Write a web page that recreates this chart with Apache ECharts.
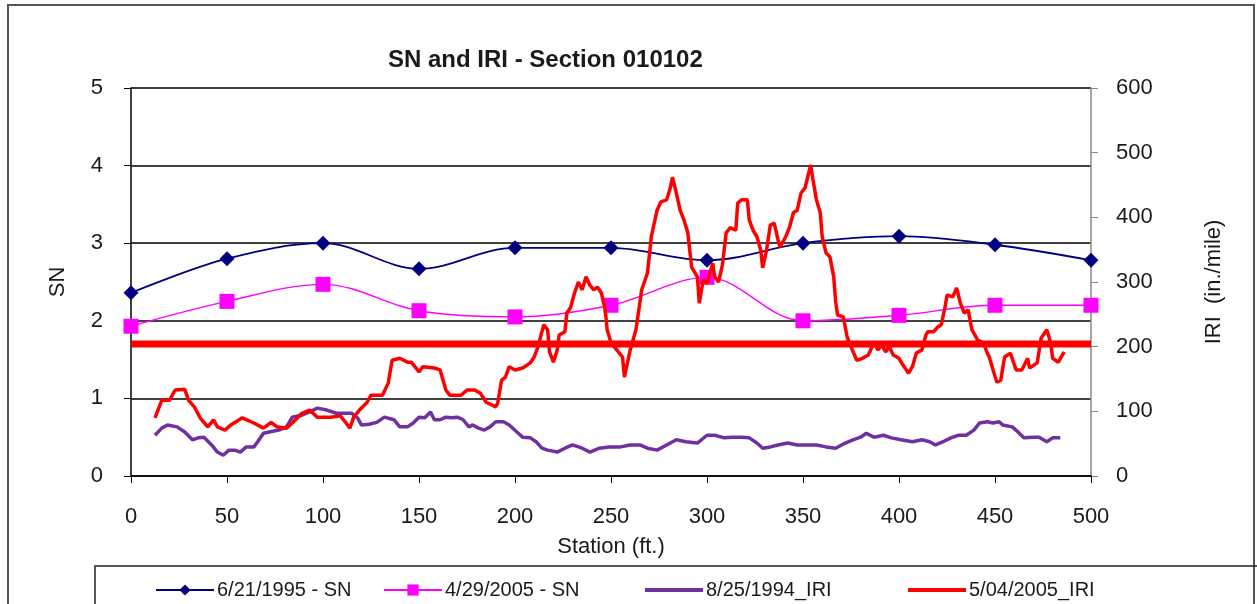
<!DOCTYPE html>
<html>
<head>
<meta charset="utf-8">
<script src="https://cdn.jsdelivr.net/npm/echarts@6/dist/echarts.min.js"></script>
<style>
  html, body { margin: 0; padding: 0; background: #fff; }
  #chart { width: 1257px; height: 604px; }
</style>
</head>
<body>
<div id="chart"></div>
<script>
// SN readings every 50 ft
const snStations = [0, 50, 100, 150, 200, 250, 300, 350, 400, 450, 500];
const sn1995 = [2.36, 2.80, 3.00, 2.67, 2.94, 2.94, 2.78, 3.00, 3.09, 2.98, 2.78];
const sn2005 = [1.93, 2.25, 2.47, 2.13, 2.05, 2.20, 2.56, 2.00, 2.07, 2.20, 2.20];

// IRI profiles (station ft, in./mile)
const iri1994Stations = [12.5, 16, 19, 24, 28, 32, 35, 38, 42, 45, 48, 51, 54, 57, 60, 64, 66, 69, 72, 77, 81, 84, 89, 93, 97, 102, 107, 112, 115, 118, 120, 124, 128, 132, 137, 140, 144, 147, 150, 153, 156, 158, 161, 164, 167, 170, 173, 176, 178, 181, 184, 187, 190, 194, 197, 201, 204, 208, 211, 214, 217, 222, 226, 230, 235, 239, 244, 249, 255, 260, 265, 269, 274, 279, 284, 289, 295, 300, 304, 309, 313, 318, 322, 326, 329, 333, 337, 342, 347, 352, 357, 362, 367, 372, 376, 380, 383, 387, 392, 396, 401, 407, 412, 416, 419, 423, 427, 431, 435, 439, 442, 446, 449, 452, 454, 459, 462, 465, 470, 473, 477, 480, 484];
const iri1994 = [63, 74, 79, 76, 68, 56, 59, 60, 48, 37, 32, 40, 40, 37, 45, 45, 53, 66, 68, 71, 76, 91, 94, 99, 105, 102, 97, 97, 97, 90, 79, 80, 83, 91, 87, 76, 76, 82, 91, 90, 99, 87, 87, 91, 90, 91, 87, 76, 79, 74, 71, 76, 84, 84, 79, 68, 60, 59, 53, 43, 40, 37, 43, 48, 43, 37, 43, 45, 45, 48, 48, 43, 40, 48, 56, 53, 51, 63, 63, 59, 60, 60, 59, 51, 43, 45, 48, 51, 48, 48, 48, 45, 43, 51, 56, 60, 66, 60, 63, 59, 56, 53, 56, 53, 48, 53, 59, 63, 63, 71, 82, 84, 82, 84, 79, 76, 68, 59, 60, 60, 53, 59, 59];

const iri2005Stations = [12.5, 16, 20, 23, 28, 30, 33, 36, 40, 43, 45, 49, 52, 58, 64, 69, 73, 76, 81, 84, 89, 93, 97, 104, 109, 112, 114, 116, 119, 123, 125, 131, 134, 136, 140, 144, 146, 150, 152, 158, 161, 164, 166, 172, 175, 179, 182, 185, 190, 191, 193, 195, 197, 200, 204, 208, 210, 212, 215, 217, 218, 220, 222, 223, 226, 227, 229, 231, 233, 235, 237, 239, 241, 243, 245, 247, 248, 250, 253, 256, 257, 260, 263, 266, 269, 271, 274, 276, 279, 281, 282, 284, 286, 288, 290, 292, 295, 296, 298, 300, 303, 304, 306, 308, 310, 312, 315, 316, 318, 321, 322, 324, 326, 328, 329, 331, 333, 335, 337, 338, 341, 343, 345, 347, 349, 351, 353, 354, 355, 357, 359, 360, 362, 364, 366, 367, 368, 371, 373, 375, 378, 381, 384, 387, 389, 391, 393, 395, 397, 400, 402, 405, 407, 409, 412, 414, 415, 418, 420, 422, 424, 425, 428, 430, 432, 434, 436, 438, 441, 444, 446, 447, 449, 451, 453, 455, 458, 461, 464, 467, 468, 472, 474, 477, 479, 480, 483, 486];
const iri2005 = [90, 117, 117, 133, 134, 117, 107, 90, 76, 87, 76, 71, 79, 90, 82, 74, 83, 76, 74, 82, 97, 102, 91, 91, 93, 82, 74, 91, 102, 114, 125, 125, 144, 179, 182, 176, 176, 161, 169, 167, 164, 133, 125, 125, 133, 133, 128, 114, 107, 113, 148, 153, 169, 164, 167, 175, 184, 200, 234, 226, 192, 176, 195, 218, 223, 252, 261, 283, 300, 288, 308, 295, 288, 292, 283, 257, 226, 206, 195, 184, 153, 195, 226, 288, 314, 370, 411, 424, 427, 447, 462, 438, 411, 396, 376, 323, 308, 267, 303, 298, 329, 308, 300, 326, 376, 384, 380, 422, 427, 427, 396, 380, 370, 349, 322, 349, 388, 391, 365, 354, 370, 385, 407, 411, 438, 445, 469, 481, 462, 427, 407, 370, 345, 339, 308, 270, 249, 246, 215, 200, 179, 182, 187, 206, 195, 203, 192, 200, 187, 182, 172, 159, 169, 190, 195, 218, 223, 223, 230, 234, 261, 280, 277, 291, 267, 252, 257, 226, 210, 206, 190, 184, 164, 145, 148, 184, 190, 164, 164, 182, 167, 175, 213, 226, 206, 182, 176, 192];

// thick red reference line (on SN axis)
const refStations = [0, 500];
const refLevel = [1.7, 1.7];

const names = ['6/21/1995 - SN', '4/29/2005 - SN', '8/25/1994_IRI', '5/04/2005_IRI'];

const pair = (xs, ys) => xs.map((x, i) => [x, ys[i]]);

const FONT = '"Liberation Sans", Arial, sans-serif';
const TXT = '#1a1a1a';

const chart = echarts.init(document.getElementById('chart'));

// one legend per entry so each sits in its own column like the original
function legendAt(name, left, plainLine) {
    return {
        data: [plainLine ? { name: name, icon: 'rect' } : name],
        left: left,
        top: 575,
        itemWidth: 58,
        itemHeight: plainLine ? 4 : 14,
        itemGap: 0,
        textStyle: { fontFamily: FONT, fontSize: 20, color: TXT, padding: [0, 0, 0, -2] }
    };
}

const option = {
    animation: false,
    backgroundColor: '#fff',
    title: {
        text: 'SN and IRI - Section 010102',
        left: 383,
        top: 43,
        textStyle: { fontFamily: FONT, fontSize: 24, fontWeight: 'bold', color: TXT }
    },
    legend: [
        legendAt(names[0], 150, false),
        legendAt(names[1], 378, false),
        legendAt(names[2], 640, true),
        legendAt(names[3], 903, true)
    ],
    graphic: [
        {
            type: 'rect', z: -1, silent: true,
            shape: { x: 8, y: 5, width: 1246, height: 640 },
            style: { fill: null, stroke: '#555', lineWidth: 2 }
        },
        {
            type: 'rect', z: -1, silent: true,
            shape: { x: 95, y: 566, width: 1170, height: 50 },
            style: { fill: null, stroke: '#222', lineWidth: 1.5 }
        }
    ],
    grid: { left: 131, right: 166, top: 88, bottom: 128 },
    xAxis: {
        type: 'value',
        min: 0, max: 500, interval: 50,
        name: 'Station (ft.)',
        nameLocation: 'middle',
        nameGap: 60,
        nameTextStyle: { fontFamily: FONT, fontSize: 22, color: TXT },
        axisLine: { lineStyle: { color: '#000', width: 1.5 } },
        axisTick: { length: 7, lineStyle: { color: '#000' } },
        axisLabel: { fontFamily: FONT, fontSize: 22, color: TXT, margin: 30 },
        splitLine: { show: false }
    },
    yAxis: [
        {
            type: 'value',
            min: 0, max: 5, interval: 1,
            name: 'SN',
            nameLocation: 'middle',
            nameRotate: 90,
            nameGap: 62,
            nameTextStyle: { fontFamily: FONT, fontSize: 22, color: TXT },
            axisLine: { show: true, lineStyle: { color: '#000', width: 1.5 } },
            axisTick: { show: true, length: 7, lineStyle: { color: '#000' } },
            axisLabel: { fontFamily: FONT, fontSize: 22, color: TXT, margin: 28 },
            splitLine: { show: true, lineStyle: { color: '#000', width: 1.5 } }
        },
        {
            type: 'value',
            min: 0, max: 600, interval: 100,
            position: 'right',
            name: 'IRI  (in./mile)',
            nameLocation: 'middle',
            nameRotate: 90,
            nameGap: 112,
            nameTextStyle: { fontFamily: FONT, fontSize: 22, color: TXT },
            axisLine: { show: true, lineStyle: { color: '#888', width: 1.5 } },
            axisTick: { show: true, length: 7, lineStyle: { color: '#888' } },
            axisLabel: { fontFamily: FONT, fontSize: 22, color: TXT, margin: 25 },
            splitLine: { show: false }
        }
    ],
    series: [
        {
            name: 'ref',
            type: 'line',
            yAxisIndex: 0,
            data: pair(refStations, refLevel),
            symbol: 'none',
            lineStyle: { color: '#ff0000', width: 7 },
            z: 1
        },
        {
            name: names[0],
            type: 'line',
            yAxisIndex: 0,
            data: pair(snStations, sn1995),
            smooth: 0.35,
            symbol: 'diamond',
            symbolSize: 15,
            itemStyle: { color: '#000080' },
            lineStyle: { color: '#000080', width: 1.8 },
            z: 2
        },
        {
            name: names[1],
            type: 'line',
            yAxisIndex: 0,
            data: pair(snStations, sn2005),
            smooth: 0.35,
            symbol: 'rect',
            symbolSize: 15,
            itemStyle: { color: '#ff00ff' },
            lineStyle: { color: '#ff00ff', width: 1.4 },
            z: 3
        },
        {
            name: names[2],
            type: 'line',
            yAxisIndex: 1,
            data: pair(iri1994Stations, iri1994),
            symbol: 'none',
            itemStyle: { color: '#7030a0' },
            lineStyle: { color: '#7030a0', width: 3.5 },
            z: 4
        },
        {
            name: names[3],
            type: 'line',
            yAxisIndex: 1,
            data: pair(iri2005Stations, iri2005),
            symbol: 'none',
            itemStyle: { color: '#ff0000' },
            lineStyle: { color: '#ff0000', width: 3.5 },
            z: 5
        }
    ]
};

chart.setOption(option);
</script>
</body>
</html>
